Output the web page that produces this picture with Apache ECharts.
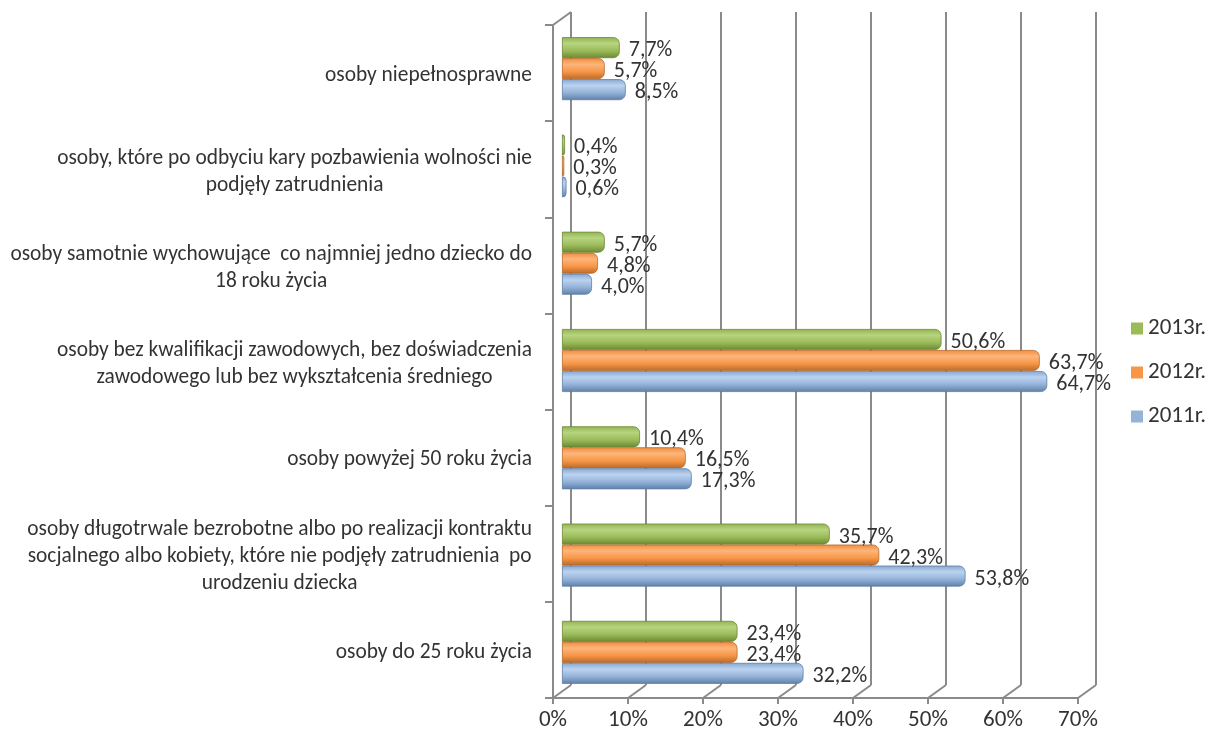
<!DOCTYPE html>
<html>
<head>
<meta charset="utf-8">
<script src="https://cdn.jsdelivr.net/npm/echarts@6/dist/echarts.min.js"></script>
<style>
  html, body { margin: 0; padding: 0; background: #fff; }
  #chart { width: 1210px; height: 740px; }
</style>
</head>
<body>
<div id="chart"></div>
<script>
// kategorie od dołu do góry
var categories = [
    'osoby do 25 roku życia',
    'osoby długotrwale bezrobotne albo po realizacji kontraktu\nsocjalnego albo kobiety, które nie podjęły zatrudnienia  po\nurodzeniu dziecka',
    'osoby powyżej 50 roku życia',
    'osoby bez kwalifikacji zawodowych, bez doświadczenia\nzawodowego lub bez wykształcenia średniego',
    'osoby samotnie wychowujące  co najmniej jedno dziecko do\n18 roku życia',
    'osoby, które po odbyciu kary pozbawienia wolności nie\npodjęły zatrudnienia',
    'osoby niepełnosprawne'
];
var legendOrder = ['2013r.', '2012r.', '2011r.'];
var v2011 = [32.2, 53.8, 17.3, 64.7, 4.0, 0.6, 8.5];
var v2012 = [23.4, 42.3, 16.5, 63.7, 4.8, 0.3, 5.7];
var v2013 = [23.4, 35.7, 10.4, 50.6, 5.7, 0.4, 7.7];
var xTicks = [0, 10, 20, 30, 40, 50, 60, 70];

var FONT = 'Carlito, Calibri, Lato, sans-serif';
var GRID_COLOR = '#8a8a8a';
var TEXT_COLOR = '#333';

var colors = {
    '2011r.': '#95B3D7',
    '2012r.': '#F79646',
    '2013r.': '#9BBB59'
};

function fmt(v) {
    return v.toFixed(1).replace('.', ',') + '%';
}

// gradient "walca"
function cyl(top, light, mid, dark) {
    return new echarts.graphic.LinearGradient(0, 0, 0, 1, [
        {offset: 0, color: top},
        {offset: 0.3, color: light},
        {offset: 0.65, color: mid},
        {offset: 1, color: dark}
    ]);
}

function barSeries(name, data, fill, border) {
    return {
        name: name,
        type: 'bar',
        xAxisIndex: 2,
        yAxisIndex: 2,
        data: data,
        barWidth: 21,
        barGap: '0%',
        z: 5,
        itemStyle: {
            color: fill,
            borderColor: border,
            borderWidth: 0.8,
            borderRadius: [0, 6, 6, 0]
        },
        label: {
            show: true,
            position: 'right',
            distance: 9,
            offset: [0, 3],
            fontFamily: FONT,
            fontSize: 22,
            color: TEXT_COLOR,
            formatter: function (p) { return fmt(p.value); }
        }
    };
}

var myChart = echarts.init(document.getElementById('chart'));

var option = {
    animation: false,
    backgroundColor: '#ffffff',
    legend: {
        orient: 'vertical',
        left: 1126,
        top: 312,
        itemWidth: 12,
        itemHeight: 12,
        itemGap: 21,
        icon: 'rect',
        data: legendOrder.map(function (n) {
            return {name: n, itemStyle: {color: colors[n], borderWidth: 0}};
        }),
        textStyle: {fontFamily: FONT, fontSize: 23, color: TEXT_COLOR}
    },
    grid: [
        // tylna ściana
        {left: 571, top: 12, width: 525, height: 673},
        // przednia płaszczyzna (osie)
        {left: 553, top: 25, width: 525, height: 673},
        // słupki
        {left: 562, top: 20, width: 525, height: 681}
    ],
    xAxis: [
        {
            gridIndex: 0, type: 'value', min: 0, max: 70, interval: 10,
            axisLine: {show: false}, axisTick: {show: false}, axisLabel: {show: false},
            splitLine: {show: true, lineStyle: {color: GRID_COLOR, width: 2}}
        },
        {
            gridIndex: 1, type: 'value', min: 0, max: 70, interval: 10,
            axisLine: {show: true, lineStyle: {color: GRID_COLOR, width: 2}},
            axisTick: {show: true, length: 6, lineStyle: {color: GRID_COLOR, width: 2}},
            axisLabel: {
                margin: 11, fontFamily: FONT, fontSize: 23, color: TEXT_COLOR,
                formatter: '{value}%'
            },
            splitLine: {show: false}
        },
        {
            gridIndex: 2, type: 'value', min: 0, max: 70, show: false,
            splitLine: {show: false}
        }
    ],
    yAxis: [
        {gridIndex: 0, type: 'category', data: categories, show: false},
        {
            gridIndex: 1, type: 'category', data: categories,
            axisLine: {show: true, lineStyle: {color: GRID_COLOR, width: 2}},
            axisTick: {show: true, length: 8, lineStyle: {color: GRID_COLOR, width: 2}},
            axisLabel: {
                margin: 21,
                align: 'right',
                formatter: function (v) {
                    return v.split('\n').map(function (s) { return '{c|' + s + '}'; }).join('\n');
                },
                rich: {
                    c: {align: 'center', fontFamily: FONT, fontSize: 21.4, color: TEXT_COLOR, lineHeight: 27, padding: [5, 0, 0, 0]}
                }
            }
        },
        {gridIndex: 2, type: 'category', data: categories, show: false}
    ],
    series: [
        barSeries('2013r.', v2013, cyl('#92B352', '#B7D47F', '#9BBB59', '#6A8834'), '#6A8834'),
        barSeries('2012r.', v2012, cyl('#F08C3C', '#FDB57B', '#F79646', '#B9692A'), '#B9692A'),
        barSeries('2011r.', v2011, cyl('#86A6D0', '#BBD3F0', '#94B2D8', '#5E7FA8'), '#5E7FA8'),
        {
            // skośne linie podłogi (głębia 3D)
            type: 'custom',
            xAxisIndex: 1,
            yAxisIndex: 1,
            silent: true,
            z: 1,
            data: xTicks.map(function (t) { return [t, 0]; }),
            renderItem: function (params, api) {
                var cs = params.coordSys;
                var x = api.coord([api.value(0), 0])[0];
                var y = cs.y + cs.height;
                var style = {stroke: GRID_COLOR, lineWidth: 2};
                var children = [{
                    type: 'line',
                    shape: {x1: x, y1: y, x2: x + 18, y2: y - 13},
                    style: style
                }];
                if (params.dataIndex === 0) {
                    children.push({
                        type: 'line',
                        shape: {x1: cs.x, y1: cs.y, x2: cs.x + 18, y2: cs.y - 13},
                        style: style
                    });
                }
                return {type: 'group', children: children};
            }
        }
    ]
};

myChart.setOption(option);
</script>
</body>
</html>
